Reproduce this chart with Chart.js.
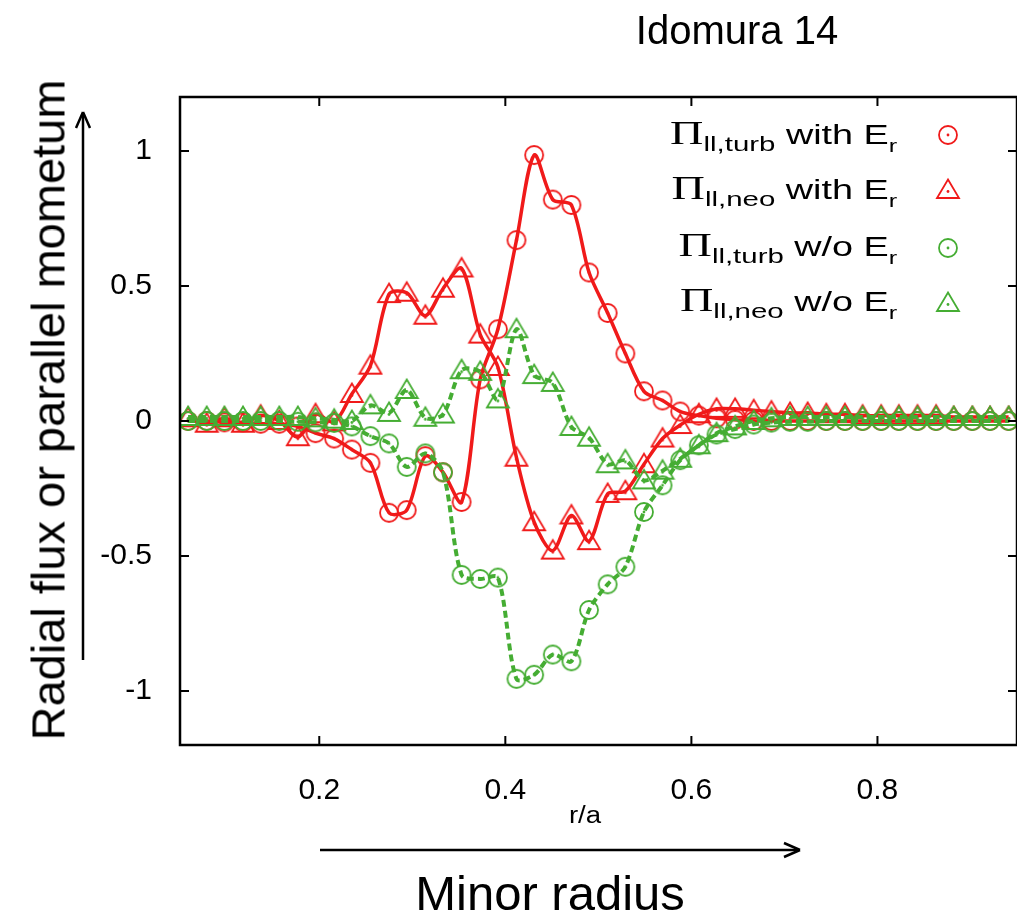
<!DOCTYPE html>
<html>
<head>
<meta charset="utf-8">
<script src="https://cdn.jsdelivr.net/npm/chart.js@4"></script>
<style>
  html, body { margin: 0; padding: 0; background: #fff; overflow: hidden; }
  #wrap { position: relative; width: 1017px; height: 924px; overflow: hidden; }
  #plot { position: absolute; left: 0; top: 0; }
  .txt { position: absolute; font-family: "Liberation Sans", Arial, sans-serif; color: #000; white-space: nowrap; }
  .leg { position: absolute; right: 120px; font-family: "Liberation Sans", Arial, sans-serif; font-size: 27px; line-height: 30px;
         color: #000; white-space: nowrap; transform: scaleX(1.4); transform-origin: right center; }
  .leg .pi { font-family: "Liberation Serif", "DejaVu Serif", serif; font-size: 33px; }
  .leg sub { font-size: 21px; vertical-align: -7px; }
  .leg sub.r { font-size: 18px; vertical-align: -8px; }
</style>
</head>
<body>
<div id="wrap">
  <canvas id="plot" width="1030" height="924"></canvas>
  <div class="txt" style="left:737px; top:30px; font-size:40px; transform: translate(-50%, -50%);">Idomura 14</div>
  <div class="txt" style="left:48px; top:410px; font-size:47px; transform: translate(-50%, -50%) rotate(-90deg);">Radial flux or parallel mometum</div>
  <div class="txt" style="left:585px; top:815px; font-size:23px; transform: translate(-50%, -50%) scaleX(1.2);">r/a</div>
  <div class="txt" style="left:550px; top:893px; font-size:49px; transform: translate(-50%, -50%);">Minor radius</div>
  <div class="leg" style="top:118px;"><span class="pi">Π</span><sub>ll,turb</sub> with E<sub class="r">r</sub></div>
  <div class="leg" style="top:173px;"><span class="pi">Π</span><sub>ll,neo</sub> with E<sub class="r">r</sub></div>
  <div class="leg" style="top:230px;"><span class="pi">Π</span><sub>ll,turb</sub> w/o E<sub class="r">r</sub></div>
  <div class="leg" style="top:285px;"><span class="pi">Π</span><sub>ll,neo</sub> w/o E<sub class="r">r</sub></div>
</div>
<script>
// r/a positions of the markers
const xValues = [0.059, 0.079, 0.098, 0.118, 0.137, 0.157, 0.177, 0.196, 0.216, 0.235,
                 0.255, 0.275, 0.294, 0.314, 0.333, 0.353, 0.373, 0.392, 0.412, 0.431,
                 0.451, 0.471, 0.490, 0.510, 0.529, 0.549, 0.569, 0.588, 0.608, 0.627,
                 0.647, 0.667, 0.686, 0.706, 0.725, 0.745, 0.765, 0.784, 0.804, 0.823,
                 0.843, 0.863, 0.882, 0.902, 0.921, 0.941];

const turbWithEr = [0, 0, -0.005, -0.005, -0.01, -0.01, -0.02, -0.045, -0.065, -0.106,
                    -0.155, -0.34, -0.33, -0.13, -0.19, -0.30, 0.154, 0.34, 0.67, 0.985,
                    0.82, 0.80, 0.55, 0.40, 0.25, 0.11, 0.076, 0.035, 0.02, 0.01,
                    0.005, 0, 0, 0, 0, 0, 0, 0, 0, 0,
                    0, 0, 0, 0, 0, 0];

const neoWithEr = [0.01, -0.01, 0.01, -0.01, 0.02, 0, -0.06, 0.025, -0.005, 0.10,
                   0.205, 0.47, 0.475, 0.39, 0.49, 0.565, 0.32, 0.20, -0.136, -0.375,
                   -0.48, -0.35, -0.445, -0.27, -0.26, -0.16, -0.065, -0.015, 0.025, 0.045,
                   0.045, 0.04, 0.035, 0.03, 0.03, 0.025, 0.025, 0.02, 0.02, 0.02,
                   0.02, 0.02, 0.015, 0.015, 0.015, 0.015];

const turbNoEr = [0, 0, 0, 0, 0, 0, -0.003, -0.005, -0.007, -0.02,
                  -0.056, -0.083, -0.17, -0.12, -0.19, -0.57, -0.585, -0.58, -0.955, -0.94,
                  -0.865, -0.89, -0.70, -0.605, -0.54, -0.337, -0.238, -0.145, -0.09, -0.05,
                  -0.03, -0.013, -0.006, -0.003, -0.003, 0, 0, 0, 0, 0,
                  0, 0, 0, 0, 0, 0];

const neoNoEr = [0.015, 0.015, 0.015, 0.015, 0.015, 0.015, 0.015, 0.01, 0.005, 0,
                 0.058, 0.03, 0.115, 0.012, 0.024, 0.188, 0.182, 0.08, 0.34, 0.17,
                 0.141, -0.022, -0.062, -0.16, -0.146, -0.22, -0.184, -0.14, -0.09, -0.045,
                 -0.02, 0, 0.01, 0.015, 0.015, 0.015, 0.015, 0.015, 0.015, 0.015,
                 0.015, 0.015, 0.015, 0.015, 0.015, 0.015];

const xTicks = [0.2, 0.4, 0.6, 0.8];
const yTicks = [-1, -0.5, 0, 0.5, 1];

const RED = "#f01a1a";
const GREEN = "#45ad33";
const FONT = "'Liberation Sans', Arial, sans-serif";

function makeMarker(shape, color) {
    const c = document.createElement("canvas");
    c.width = 26; c.height = 26;
    const g = c.getContext("2d");
    g.strokeStyle = color;
    g.fillStyle = color;
    g.lineWidth = 1.8;
    g.beginPath();
    if (shape === "circle") {
        g.arc(13, 13, 9, 0, Math.PI * 2);
    } else {
        g.moveTo(13, 2.5);
        g.lineTo(24, 21);
        g.lineTo(2, 21);
        g.closePath();
    }
    g.stroke();
    g.beginPath();
    g.arc(13, shape === "circle" ? 13 : 14.5, 1.4, 0, Math.PI * 2);
    g.fill();
    return c;
}

const mRedCircle = makeMarker("circle", RED);
const mRedTri = makeMarker("tri", RED);
const mGreenCircle = makeMarker("circle", GREEN);
const mGreenTri = makeMarker("tri", GREEN);

function toPoints(ys) {
    return xValues.map((x, i) => ({ x: x, y: ys[i] }));
}

function series(ys, color, marker, dashed, order) {
    return {
        data: toPoints(ys),
        borderColor: color,
        borderWidth: dashed ? 4 : 3.5,
        borderDash: dashed ? [7, 4] : [],
        pointStyle: marker,
        pointRadius: 9,
        tension: 0.3,
        fill: false,
        order: order
    };
}

// frame, inward ticks, legend markers and arrows
const framePlugin = {
    id: "frame",
    afterDraw(chart) {
        const ctx = chart.ctx;
        const a = chart.chartArea;
        const xs = chart.scales.x;
        const ys = chart.scales.y;
        ctx.save();
        ctx.strokeStyle = "#000";
        ctx.lineWidth = 2.5;
        ctx.strokeRect(a.left, a.top, a.right - a.left, a.bottom - a.top);
        ctx.lineWidth = 2;
        ctx.beginPath();
        xTicks.forEach(v => {
            const px = xs.getPixelForValue(v);
            ctx.moveTo(px, a.bottom); ctx.lineTo(px, a.bottom - 9);
            ctx.moveTo(px, a.top); ctx.lineTo(px, a.top + 9);
        });
        yTicks.forEach(v => {
            const py = ys.getPixelForValue(v);
            ctx.moveTo(a.left, py); ctx.lineTo(a.left + 9, py);
            ctx.moveTo(a.right, py); ctx.lineTo(a.right - 9, py);
        });
        ctx.stroke();

        [[mRedCircle, 135], [mRedTri, 190], [mGreenCircle, 248], [mGreenTri, 303]].forEach(m => {
            ctx.drawImage(m[0], 948 - 13, m[1] - 13);
        });

        ctx.lineWidth = 2.5;
        ctx.beginPath();
        ctx.moveTo(320, 850); ctx.lineTo(798, 850);
        ctx.moveTo(83, 660); ctx.lineTo(83, 114);
        ctx.stroke();
        ctx.beginPath();
        ctx.moveTo(800, 850); ctx.lineTo(784, 843); ctx.moveTo(800, 850); ctx.lineTo(784, 857);
        ctx.moveTo(83, 112); ctx.lineTo(76, 128); ctx.moveTo(83, 112); ctx.lineTo(90, 128);
        ctx.stroke();
        ctx.restore();
    }
};

new Chart(document.getElementById("plot"), {
    type: "line",
    data: {
        datasets: [
            series(turbWithEr, RED, mRedCircle, false, 4),
            series(neoWithEr, RED, mRedTri, false, 3),
            series(turbNoEr, GREEN, mGreenCircle, true, 2),
            series(neoNoEr, GREEN, mGreenTri, true, 1)
        ]
    },
    options: {
        responsive: false,
        animation: false,
        layout: { padding: { top: 97, right: 9, left: 0, bottom: 0 } },
        plugins: { legend: { display: false }, tooltip: { enabled: false } },
        scales: {
            x: {
                type: "linear",
                min: 0.0503,
                max: 0.95,
                grid: { display: false },
                border: { display: false },
                afterBuildTicks: s => { s.ticks = xTicks.map(v => ({ value: v })); },
                afterFit: s => { s.height = 179; },
                ticks: { color: "#000", font: { family: FONT, size: 30 }, padding: 20, maxRotation: 0,
                         callback: v => String(v) }
            },
            y: {
                type: "linear",
                min: -1.2,
                max: 1.2,
                grid: { display: false },
                border: { display: false },
                afterBuildTicks: s => { s.ticks = yTicks.map(v => ({ value: v })); },
                afterFit: s => { s.width = 180; },
                ticks: { color: "#000", font: { family: FONT, size: 30 }, padding: 20,
                         callback: v => String(v) }
            }
        }
    },
    plugins: [framePlugin]
});
</script>
</body>
</html>
